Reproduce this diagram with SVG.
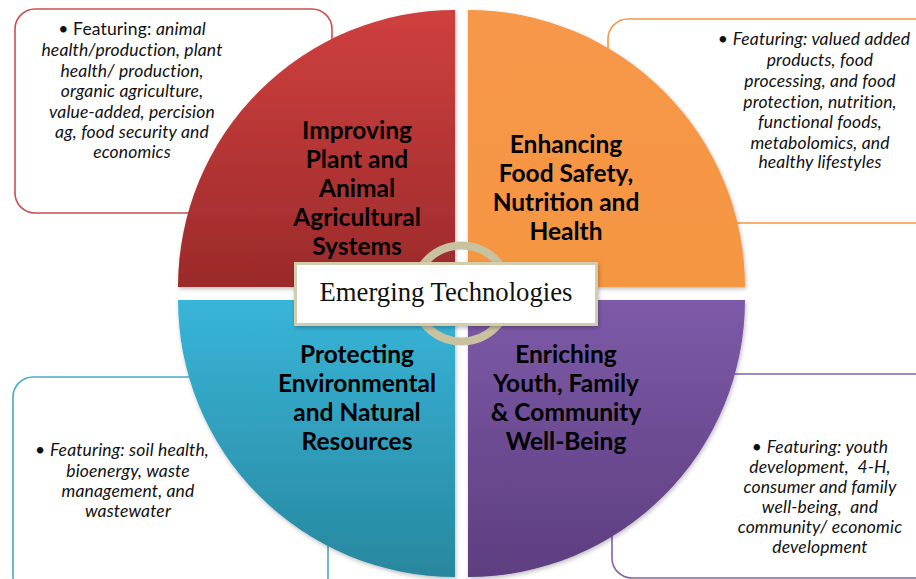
<svg xmlns="http://www.w3.org/2000/svg" width="916" height="579" viewBox="0 0 916 579">
<defs>
<linearGradient id="gRed" x1="0" y1="0" x2="0" y2="1"><stop offset="0" stop-color="#cf403e"/><stop offset="1" stop-color="#9b2a2b"/></linearGradient>
<linearGradient id="gOrange" x1="0" y1="0" x2="0" y2="1"><stop offset="0" stop-color="#f79749"/><stop offset="1" stop-color="#f59642"/></linearGradient>
<linearGradient id="gBlue" x1="0" y1="0" x2="0" y2="1"><stop offset="0" stop-color="#38b5d9"/><stop offset="1" stop-color="#28879e"/></linearGradient>
<linearGradient id="gPurple" x1="0" y1="0" x2="0" y2="1"><stop offset="0" stop-color="#7d5aa8"/><stop offset="1" stop-color="#5d3e7f"/></linearGradient>
<filter id="sh" x="-10%" y="-10%" width="120%" height="120%"><feDropShadow dx="1" dy="2" stdDeviation="2" flood-color="#000" flood-opacity="0.25"/></filter>
</defs>
<style>
.box{fill:#fff;stroke-width:1.6}
.ct{font-family:Lato,"Liberation Sans",sans-serif;font-size:17.5px;letter-spacing:0.15px;font-style:italic;fill:#111;text-anchor:middle}
.qt{font-family:Lato,"Liberation Sans",sans-serif;font-size:24.5px;font-weight:bold;fill:#000;text-anchor:middle}
.up{font-style:normal}
.pre{white-space:pre}
</style>
<rect width="916" height="579" fill="#fff"/>

<g id="callout-agri">
<rect class="box" x="15" y="9" width="317" height="204" rx="20" stroke="#c9504e"/>
<text class="ct" x="132" y="35"><tspan class="up">• Featuring: </tspan>animal</text>
<text class="ct" x="132" y="56">health/production, plant</text>
<text class="ct" x="132" y="76.5">health/ production,</text>
<text class="ct" x="132" y="97">organic agriculture,</text>
<text class="ct" x="132" y="117.5">value-added, percision</text>
<text class="ct" x="132" y="138">ag, food security and</text>
<text class="ct" x="132" y="158">economics</text>
</g>

<g id="callout-food">
<rect class="box" x="608" y="19" width="330" height="204" rx="20" stroke="#f79646"/>
<text class="ct" x="814" y="45"><tspan class="up">• </tspan>Featuring: valued added</text>
<text class="ct" x="820" y="66">products, food</text>
<text class="ct" x="820" y="87">processing, and food</text>
<text class="ct" x="820" y="107.5">protection, nutrition,</text>
<text class="ct" x="820" y="128">functional foods,</text>
<text class="ct" x="820" y="148.5">metabolomics, and</text>
<text class="ct" x="820" y="168">healthy lifestyles</text>
</g>

<g id="callout-env">
<rect class="box" x="13" y="377" width="315" height="220" rx="20" stroke="#4aabc6"/>
<text class="ct" x="122" y="456"><tspan class="up">• </tspan>Featuring: soil health,</text>
<text class="ct" x="128" y="477">bioenergy, waste</text>
<text class="ct" x="128" y="497">management, and</text>
<text class="ct" x="128" y="517">wastewater</text>
</g>

<g id="callout-youth">
<rect class="box" x="612" y="374" width="330" height="204" rx="20" stroke="#8064a2"/>
<text class="ct" x="820" y="452.5"><tspan class="up">• </tspan>Featuring: youth</text>
<text class="ct pre" x="820" y="472.5">development,  4-H,</text>
<text class="ct" x="820" y="492.5">consumer and family</text>
<text class="ct pre" x="820" y="512.5">well-being,  and</text>
<text class="ct" x="820" y="532.5">community/ economic</text>
<text class="ct" x="820" y="552.5">development</text>
</g>

<g id="quad-agri">
<path d="M455,287 L178,287 A277,277 0 0 1 455,10 Z" fill="url(#gRed)" filter="url(#sh)"/>
<text class="qt" x="357" y="138.5">Improving</text>
<text class="qt" x="357" y="167.5">Plant and</text>
<text class="qt" x="357" y="196.5">Animal</text>
<text class="qt" x="357" y="225.5">Agricultural</text>
<text class="qt" x="357" y="254.5">Systems</text>
</g>

<g id="quad-food">
<path d="M468,287 L468,10 A277,277 0 0 1 745,287 Z" fill="url(#gOrange)" filter="url(#sh)"/>
<text class="qt" x="566" y="152.5">Enhancing</text>
<text class="qt" x="566" y="181.5">Food Safety,</text>
<text class="qt" x="566" y="210.5">Nutrition and</text>
<text class="qt" x="566" y="239.5">Health</text>
</g>

<g id="quad-env">
<path d="M455,300 L455,577 A277,277 0 0 1 178,300 Z" fill="url(#gBlue)" filter="url(#sh)"/>
<text class="qt" x="357" y="362.5">Protecting</text>
<text class="qt" x="357" y="391.5">Environmental</text>
<text class="qt" x="357" y="420.5">and Natural</text>
<text class="qt" x="357" y="449.5">Resources</text>
</g>

<g id="quad-youth">
<path d="M468,300 L745,300 A277,277 0 0 1 468,577 Z" fill="url(#gPurple)" filter="url(#sh)"/>
<text class="qt" x="566" y="362.5">Enriching</text>
<text class="qt" x="566" y="391.5">Youth, Family</text>
<text class="qt" x="566" y="420.5">&amp; Community</text>
<text class="qt" x="566" y="449.5">Well-Being</text>
</g>

<g id="center">
<circle cx="461.5" cy="293.5" r="48" fill="none" stroke="#c9c2a0" stroke-width="8"/>
<rect x="295.5" y="263.5" width="301" height="61" fill="#fff" stroke="#d3cdae" stroke-width="3" filter="url(#sh)"/>
<text x="446" y="301" font-family="'Liberation Serif',serif" font-size="26.7" fill="#111" text-anchor="middle">Emerging Technologies</text>
</g>
</svg>
